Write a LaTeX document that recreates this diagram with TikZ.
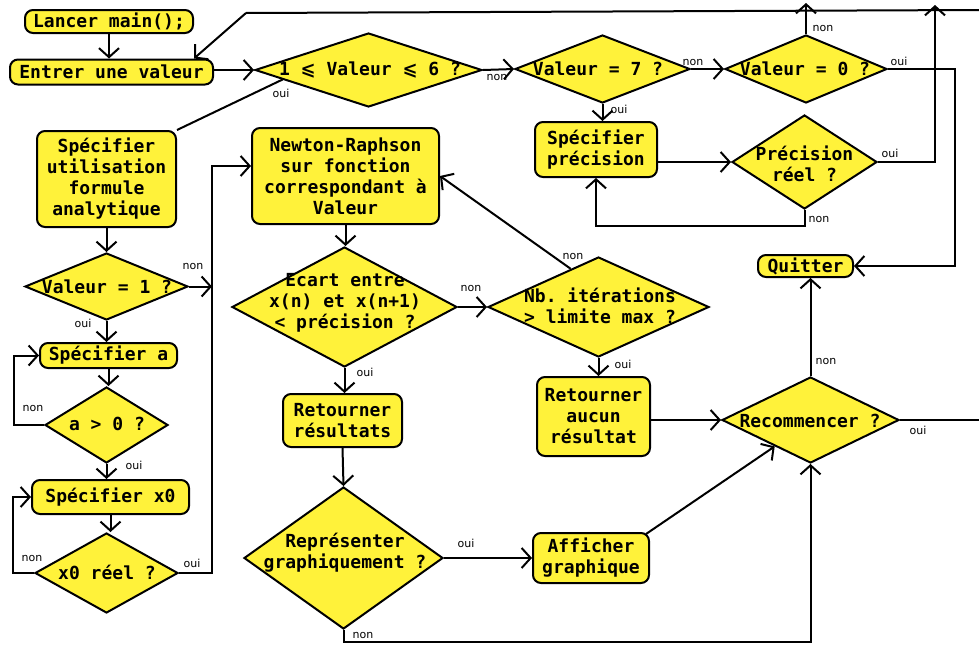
\documentclass[tikz,border=0pt]{standalone}
\usepackage{fontspec}
\setmonofont{DejaVu Sans Mono}
\newfontfamily\lblf{DejaVu Sans}
\newfontfamily\symf{DejaVu Sans}
\usetikzlibrary{shapes.geometric,arrows.meta,calc}
\definecolor{boxy}{RGB}{255,242,58}
\newcommand\mainf{\ttfamily\bfseries\fontsize{18}{21}\selectfont}
\tikzset{
 base/.style={draw=black,line width=2pt,fill=boxy},
 rbox/.style={base,rounded corners=8pt,inner sep=0pt,align=center,font=\mainf},
 dia/.style={base,diamond,inner sep=0pt},
 dtxt/.style={align=center,font=\mainf,inner sep=0pt},
 ln/.style={line width=2pt},
 arr/.style={line width=2pt,-{Straight Barb[length=9pt,width=20pt,line width=2pt]}},
 lbl/.style={font=\lblf\fontsize{11}{13}\selectfont,inner sep=0pt},
}
\begin{document}
\begin{tikzpicture}[x=1pt,y=-1pt]
\useasboundingbox[fill=white] (0,0) rectangle (979,645);
% boxes
\node[rbox,minimum width=168pt,minimum height=23pt] (lancer) at (109,21.5) {Lancer main();};
\node[rbox,minimum width=203pt,minimum height=25pt] (entrer) at (111.5,72) {Entrer une valeur};
\node[rbox,minimum width=122pt,minimum height=55pt] (precis) at (596,149.5) {Spécifier\\précision};
\node[rbox,minimum width=139pt,minimum height=96pt] (formule) at (106.5,179) {Spécifier\\utilisation\\formule\\analytique};
\node[rbox,minimum width=137pt,minimum height=25pt] (speca) at (108.5,355.5) {Spécifier a};
\node[rbox,minimum width=157pt,minimum height=34pt] (specx) at (110.5,497) {Spécifier x0};
\node[rbox,minimum width=187pt,minimum height=96pt] (newton) at (345.5,176) {Newton-Raphson\\sur fonction\\correspondant à\\Valeur};
\node[rbox,minimum width=113pt,minimum height=79pt] (aucun) at (593.5,416.5) {Retourner\\aucun\\résultat};
\node[rbox,minimum width=119pt,minimum height=53pt] (resultats) at (342.5,420.5) {Retourner\\résultats};
\node[rbox,minimum width=116pt,minimum height=50pt] (afficher) at (591,558) {Afficher\\graphique};
\node[rbox,minimum width=95pt,minimum height=22pt] (quitter) at (805.5,266) {Quitter};
% diamonds
\node[dia,minimum width=227pt,minimum height=74pt] (d1) at (368.5,70) {};
\node[dtxt] (d1t) at (370,70) {1 {\symf\bfseries ⩽} Valeur {\symf\bfseries ⩽} 6 ?};
\node[dia,minimum width=175pt,minimum height=68pt] (d7) at (602.5,69) {};
\node[dtxt] (d7t) at (598,69) {Valeur = 7 ?};
\node[dia,minimum width=162pt,minimum height=68pt] (d0) at (806,69) {};
\node[dtxt] (d0t) at (805,69) {Valeur = 0 ?};
\node[dia,minimum width=145pt,minimum height=94pt] (dprec) at (804.5,162) {};
\node[dtxt] (dprect) at (804.5,164) {Précision\\réel ?};
\node[dia,minimum width=163pt,minimum height=67pt] (dv1) at (106.5,286.5) {};
\node[dtxt] (dv1t) at (107,286.5) {Valeur = 1 ?};
\node[dia,minimum width=123pt,minimum height=76pt] (da) at (106.5,425) {};
\node[dtxt] (dat) at (107,424) {a > 0 ?};
\node[dia,minimum width=143pt,minimum height=80pt] (dx0) at (106.5,573) {};
\node[dtxt] (dx0t) at (107,572) {x0 réel ?};
\node[dia,minimum width=225pt,minimum height=120pt] (decart) at (344.5,307) {};
\node[dtxt] (decartt) at (345,303) {Ecart entre\\x(n) et x(n+1)\\< précision ?};
\node[dia,minimum width=221pt,minimum height=100pt] (dnb) at (598.5,307) {};
\node[dtxt] (dnbt) at (600,306) {Nb. itérations\\> limite max ?};
\node[dia,minimum width=199pt,minimum height=142pt] (drep) at (343.5,558) {};
\node[dtxt] (drept) at (345,553) {Représenter\\graphiquement ?};
\node[dia,minimum width=177pt,minimum height=86pt] (drec) at (810.5,420) {};
\node[dtxt] (drect) at (810,421) {Recommencer ?};
% coordinates
\coordinate (tl) at (246,13);
\coordinate (tr) at (979,10);
\coordinate (topA) at (806,3);
\coordinate (topB) at (935,5);
\coordinate (rc) at (955,69);
\coordinate (recR) at (979,420);
\coordinate (vtop) at (212,166);
% connectors
\draw[arr] (lancer.south) -- (lancer.south |- entrer.north);
\draw[arr] (entrer.east |- d1.west) -- (d1.west);
\draw[ln] (tr) -- (tl);
\draw[arr] (tl) -- ([xshift=-20pt]entrer.north east);
\draw[ln] ($(d1.west)!0.25!(d1.south)$) -- (formule.north east);
\draw[arr] (d1.east) -- (d7.west);
\draw[arr] (d7.east) -- (d0.west);
\draw[arr] (d7.south) -- (d7.south |- precis.north);
\draw[arr] (precis.east |- dprec.west) -- (dprec.west);
\draw[arr] (dprec.south) -- ++(0,16) -| (precis.south);
\draw[arr] (dprec.east) -| (topB);
\draw[arr] (d0.north) -- (topA);
\draw[arr] (d0.east) -- (rc) |- (quitter.east);
\draw[ln] (drec.east) -- (recR);
\draw[arr] (drec.north) -- (drec.north |- quitter.south);
\draw[arr] (formule.south) -- (formule.south |- dv1.north);
\draw[arr] (dv1.east) -- (dv1.east -| vtop);
\draw[arr] (dx0.east) -| (vtop) -- (vtop -| newton.west);
\draw[arr] (dv1.south) -- (dv1.south |- speca.north);
\draw[arr] (speca.south) -- (speca.south |- da.north);
\draw[arr] (da.west) -- ++(-30,0) |- (speca.west);
\draw[arr] (da.south) -- (da.south |- specx.north);
\draw[arr] (specx.south) -- (specx.south |- dx0.north);
\draw[arr] (dx0.west) -- ++(-21,0) |- (specx.west);
\draw[arr] (newton.south) -- (newton.south |- decart.north);
\draw[arr] (decart.east) -- (dnb.west);
\draw[arr] ($(dnb.north)!0.25!(dnb.west)$) -- (newton.east);
\draw[arr] (dnb.south) -- (dnb.south |- aucun.north);
\draw[arr] (decart.south) -- (decart.south |- resultats.north);
\draw[arr] (resultats.south) -- (drep.north);
\draw[arr] (drep.east) -- (afficher.west);
\draw[arr] (drep.south) -- ++(0,12) -| (drec.south);
\draw[arr] (aucun.east |- drec.west) -- (drec.west);
\draw[arr] ([xshift=-4pt,yshift=-2pt]afficher.north east) -- ($(drec.west)!0.6!(drec.south)$);
% labels
\node[lbl] (l1) at (281,93) {oui};
\node[lbl] (l2) at (497,77) {non};
\node[lbl] (l3) at (693,62) {non};
\node[lbl] (l4) at (619,109) {oui};
\node[lbl] (l5) at (819,219) {non};
\node[lbl] (l6) at (890,153) {oui};
\node[lbl] (l7) at (823,28) {non};
\node[lbl] (l8) at (899,61) {oui};
\node[lbl] (l9) at (918,430) {oui};
\node[lbl] (l10) at (826,361) {non};
\node[lbl] (l11) at (193,266) {non};
\node[lbl] (l12) at (83,323) {oui};
\node[lbl] (l13) at (33,408) {non};
\node[lbl] (l14) at (134,465) {oui};
\node[lbl] (l15) at (32,558) {non};
\node[lbl] (l16) at (192,563) {oui};
\node[lbl] (l17) at (471,288) {non};
\node[lbl] (l18) at (573,256) {non};
\node[lbl] (l19) at (623,364) {oui};
\node[lbl] (l20) at (365,372) {oui};
\node[lbl] (l21) at (466,543) {oui};
\node[lbl] (l22) at (363,635) {non};
\end{tikzpicture}
\end{document}
